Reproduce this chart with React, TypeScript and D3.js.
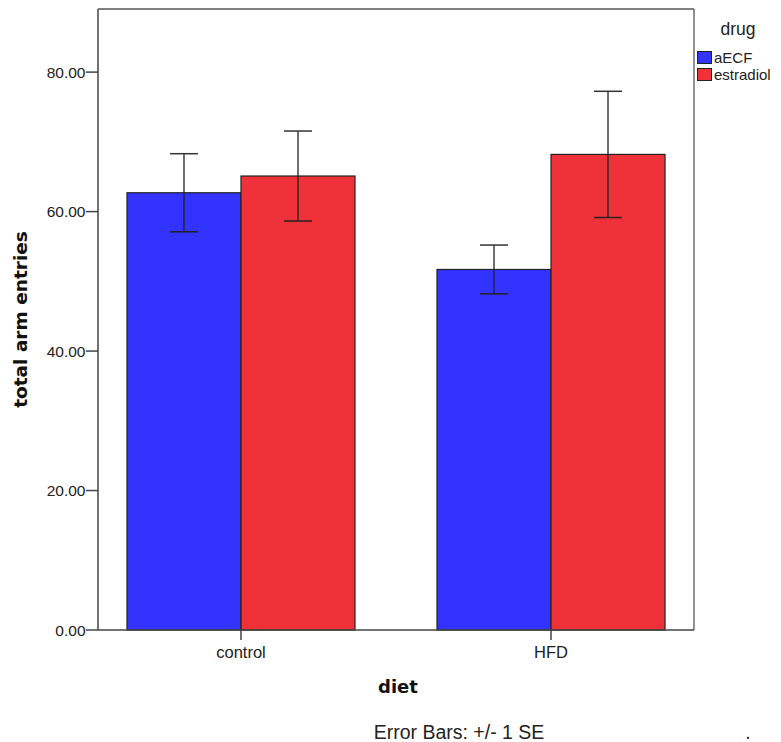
import React from "react";
import * as d3 from "d3";

const diets = ["control", "HFD"];
const drugs = ["aECF", "estradiol"];
const aECFMeans = [62.7, 51.7];
const aECFSE = [5.6, 3.5];
const estradiolMeans = [65.1, 68.2];
const estradiolSE = [6.45, 9.05];
const yTicks = [0, 20, 40, 60, 80];
const colors = ["#3333ff", "#ef323a"];

const W = 781, H = 742;
const left = 98, right = 694, top = 9, bottom = 630;

export default function App() {
  const x = d3.scaleBand<string>().domain(diets).range([left, right]).paddingInner(0.2645).paddingOuter(0.0935);
  const x1 = d3.scaleBand<string>().domain(drugs).range([0, x.bandwidth()]);
  const y = d3.scaleLinear().domain([0, 89.05]).range([bottom, top]);
  const series = [
    { drug: drugs[0], means: aECFMeans, se: aECFSE },
    { drug: drugs[1], means: estradiolMeans, se: estradiolSE },
  ];
  const font = "'Liberation Sans', Arial, sans-serif";
  const boldFont = "'DejaVu Sans', Verdana, sans-serif";
  return (
    <svg width={W} height={H} style={{ position: "absolute", left: 0, top: 0, background: "#fff" }} fontFamily={font}>
      <rect x={0} y={0} width={W} height={H} fill="#fff" />
      {series.map((s, si) =>
        diets.map((d, di) => {
          const bx = (x(d) as number) + (x1(s.drug) as number);
          const bw = x1.bandwidth();
          const m = s.means[di];
          const e = s.se[di];
          const cx = bx + bw / 2;
          return (
            <g key={s.drug + d}>
              <rect x={bx} y={y(m)} width={bw} height={y(0) - y(m)} fill={colors[si]} stroke="#222" strokeWidth={1.2} />
              <line x1={cx} x2={cx} y1={y(m + e)} y2={y(m - e)} stroke="#222" strokeWidth={1.3} />
              <line x1={cx - 14} x2={cx + 14} y1={y(m + e)} y2={y(m + e)} stroke="#333" strokeWidth={1.5} />
              <line x1={cx - 14} x2={cx + 14} y1={y(m - e)} y2={y(m - e)} stroke="#222" strokeWidth={1.5} />
            </g>
          );
        })
      )}
      {/* frame */}
      <line x1={left} x2={right} y1={top} y2={top} stroke="#555" strokeWidth={1.3} />
      <line x1={right} x2={right} y1={top} y2={bottom} stroke="#555" strokeWidth={1.3} />
      <line x1={left} x2={left} y1={top} y2={bottom} stroke="#444" strokeWidth={1.5} />
      <line x1={left} x2={right} y1={bottom} y2={bottom} stroke="#444" strokeWidth={1.5} />
      {yTicks.map((t) => (
        <g key={t}>
          <line x1={left - 12} x2={left} y1={y(t)} y2={y(t)} stroke="#444" strokeWidth={1.5} />
          <text x={left - 12.5} y={y(t)} dy="0.36em" textAnchor="end" fontSize={15.5} fill="#222">
            {t.toFixed(2)}
          </text>
        </g>
      ))}
      {diets.map((d) => {
        const cx = (x(d) as number) + x.bandwidth() / 2;
        return (
          <g key={d}>
            <line x1={cx} x2={cx} y1={bottom} y2={bottom + 10} stroke="#444" strokeWidth={1.5} />
            <text x={cx} y={bottom + 28} textAnchor="middle" fontSize={16.5} fill="#222">{d}</text>
          </g>
        );
      })}
      <text x={398} y={693} textAnchor="middle" fontSize={18} fontWeight="bold" fill="#111" fontFamily={boldFont}>diet</text>
      <text transform={`translate(27,${(top + bottom) / 2}) rotate(-90)`} textAnchor="middle" fontSize={18.5} fontWeight="bold" fill="#111" fontFamily={boldFont}>
        total arm entries
      </text>
      <text x={459} y={739} textAnchor="middle" fontSize={19.5} fill="#222">Error Bars: +/- 1 SE</text>
      <text x={748} y={739} textAnchor="middle" fontSize={19.5} fill="#222">.</text>
      {/* legend */}
      <text x={738} y={35} textAnchor="middle" fontSize={17.5} fill="#222">drug</text>
      {drugs.map((dr, i) => (
        <g key={dr}>
          <rect x={697.5} y={51.5 + i * 17} width={14} height={12} fill={colors[i]} stroke="#222" strokeWidth={1} />
          <text x={714} y={58 + i * 17} dy="0.36em" fontSize={15} fill="#222">{dr}</text>
        </g>
      ))}
    </svg>
  );
}
